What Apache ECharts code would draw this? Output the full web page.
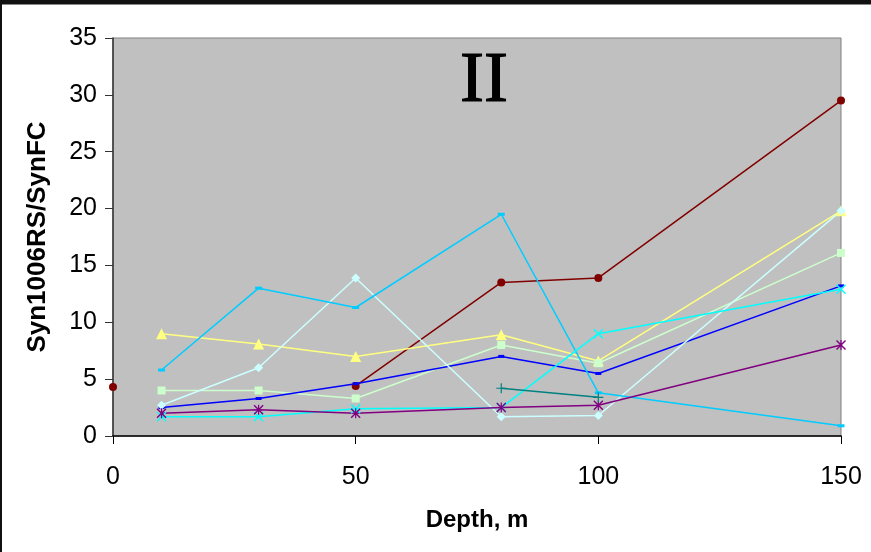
<!DOCTYPE html>
<html>
<head>
<meta charset="utf-8">
<script src="https://cdn.jsdelivr.net/npm/echarts@6/dist/echarts.min.js"></script>
<style>
  html, body { margin: 0; padding: 0; background: #fff; }
  #chart { width: 871px; height: 552px; }
</style>
</head>
<body>
<div id="chart"></div>
<script>
// depths (m) shared by all series, null = no sample
var depths = [0, 10, 30, 50, 80, 100, 150];

var sDarkRed   = [4.3, null, null, 4.4, 13.5, 13.9, 29.5];
var sYellow    = [null, 9.0, 8.1, 7.0, 8.9, 6.6, 19.8];
var sLtGreen   = [null, 4.0, 4.0, 3.3, 8.0, 6.4, 16.1];
var sBlue      = [null, 2.5, 3.3, 4.6, 7.0, 5.5, 13.2];
var sLtCyan    = [null, 2.7, 6.0, 13.9, 1.7, 1.8, 19.8];
var sSkyBlue   = [null, 5.8, 13.0, 11.3, 19.5, 3.8, 0.9];
var sCyan      = [null, 1.7, 1.7, 2.4, 2.5, 9.0, 12.9];
var sPurple    = [null, 2.0, 2.3, 2.0, 2.5, 2.7, 8.0];
var sTeal      = [null, null, null, null, 4.2, 3.4, null];

var X_PATH = 'path://M0,1L1,0L5,4L9,0L10,1L6,5L10,9L9,10L5,6L1,10L0,9L4,5Z';
var STAR_PATH = 'path://M0,1L1,0L5,4L9,0L10,1L6,5L10,9L9,10L5,6L1,10L0,9L4,5Z M4.4,0L5.6,0L5.6,10L4.4,10Z';
var PLUS_PATH = 'path://M4.4,0L5.6,0L5.6,4.4L10,4.4L10,5.6L5.6,5.6L5.6,10L4.4,10L4.4,5.6L0,5.6L0,4.4L4.4,4.4Z';

function pts (vals) {
  return depths.map(function (d, i) {
    return [d, vals[i] == null ? '-' : vals[i]];
  });
}

function mk (name, vals, color, symbol, size) {
  return {
    name: name,
    type: 'line',
    data: pts(vals),
    symbol: symbol,
    symbolSize: size,
    showSymbol: true,
    connectNulls: false,
    animation: false,
    lineStyle: { color: color, width: 1.5 },
    itemStyle: { color: color, borderColor: color, borderWidth: 0 }
  };
}

var chartDom = document.getElementById('chart');
var myChart = echarts.init(chartDom);
var option;

option = {
  backgroundColor: '#ffffff',
  animation: false,
  title: {
    text: 'II',
    left: 455,
    top: 41,
    textStyle: {
      fontFamily: 'Liberation Serif',
      fontSize: 72,
      fontWeight: 'normal',
      color: '#000',
      textBorderColor: '#000',
      textBorderWidth: 1.2
    }
  },
  grid: {
    left: 113,
    right: 30,
    top: 38,
    bottom: 116,
    show: true,
    backgroundColor: '#C0C0C0',
    borderColor: '#808080',
    borderWidth: 1
  },
  xAxis: {
    type: 'value',
    min: 0,
    max: 150,
    interval: 50,
    name: 'Depth, m',
    nameLocation: 'middle',
    nameGap: 72,
    nameTextStyle: { fontFamily: 'Liberation Sans', fontSize: 24, fontWeight: 'bold', color: '#000' },
    axisLine: { lineStyle: { color: '#000', width: 1.5 } },
    axisTick: { length: 8, lineStyle: { color: '#000' } },
    axisLabel: { margin: 29, fontFamily: 'Liberation Sans', fontSize: 25, color: '#000' },
    splitLine: { show: false }
  },
  yAxis: {
    type: 'value',
    min: 0,
    max: 35,
    interval: 5,
    name: 'Syn1006RS/SynFC',
    nameLocation: 'middle',
    nameGap: 62,
    nameTextStyle: { fontFamily: 'Liberation Sans', fontSize: 26, fontWeight: 'bold', color: '#000' },
    axisLine: { show: true, lineStyle: { color: '#333', width: 1.5 } },
    axisTick: { show: true, length: 8, lineStyle: { color: '#333' } },
    axisLabel: { margin: 16, fontFamily: 'Liberation Sans', fontSize: 25, color: '#000' },
    splitLine: { show: false }
  },
  graphic: [
    { type: 'rect', shape: { x: 0, y: 0, width: 871, height: 4 }, style: { fill: '#111' } },
    { type: 'rect', shape: { x: 0, y: 4, width: 871, height: 1 }, style: { fill: '#888' } },
    { type: 'rect', shape: { x: 0, y: 0, width: 2, height: 552 }, style: { fill: '#111' } }
  ],
  series: [
    mk('s1', sDarkRed, '#800000', 'circle', 8),
    mk('s2', sYellow, '#FFFF80', 'triangle', 11),
    mk('s3', sLtGreen, '#CCFFCC', 'rect', 8),
    mk('s4', sBlue, '#0000FF', 'rect', [6, 3]),
    mk('s5', sLtCyan, '#CCFFFF', 'diamond', 9),
    mk('s6', sSkyBlue, '#00CCFF', 'rect', [7, 3]),
    mk('s7', sCyan, '#00FFFF', X_PATH, 10),
    mk('s8', sPurple, '#800080', STAR_PATH, 10),
    mk('s9', sTeal, '#008080', PLUS_PATH, 10)
  ]
};

option && myChart.setOption(option);
</script>
</body>
</html>
